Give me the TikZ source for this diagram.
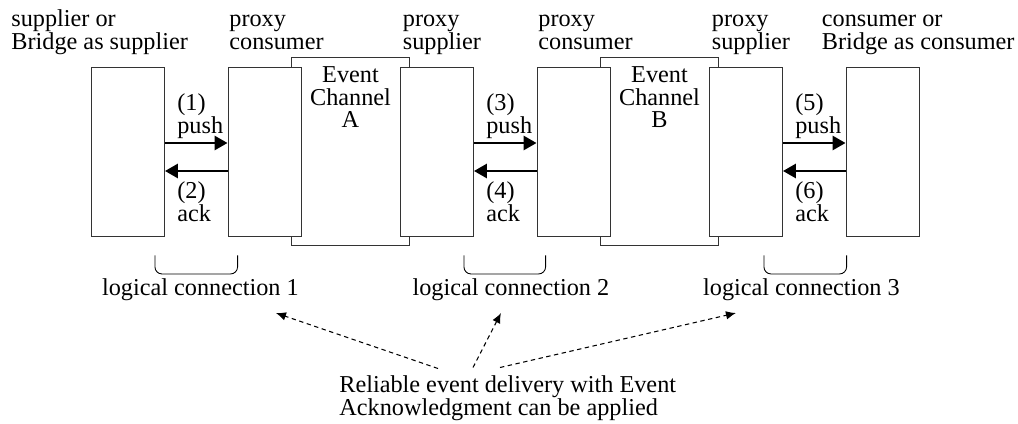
\documentclass[tikz,border=0pt]{standalone}
\usepackage{fontspec}
\setmainfont{Liberation Serif}
\usetikzlibrary{arrows.meta, backgrounds}
\tikzstyle{obj} = [rectangle, 
minimum width=1.46cm, 
minimum height=3.38cm, 
draw=black!80, fill=white, line width=0.5pt]
\tikzstyle{channel} = [rectangle, 
minimum width=2.36cm, 
minimum height=3.76cm, 
draw=black!80, line width=0.5pt]
\tikzstyle{textonly} = [inner sep=0pt, align=left, text depth=0pt]
\tikzstyle{chtext} = [inner sep=0pt, align=center, anchor=north, yshift=-0.18cm]
\tikzstyle{callarrow} = [line width=1.6pt, -{Triangle[length=0.26cm, width=0.28cm]}]
\tikzstyle{dasharrow} = [line width=0.6pt, dash pattern=on 2.5pt off 2pt, -{Latex[length=0.2cm, width=0.17cm]}]
\tikzstyle{brace} = [line width=0.5pt, rounded corners=0.14cm]

\begin{document}
\begin{tikzpicture}[node distance=2.73cm, font=\fontsize{13.8}{13}\selectfont]
		\useasboundingbox (0,0) rectangle (20.36,-8.46);
		\node (sup) [obj] at (2.56,-3.03) {};
		\node (pcA) [obj, right of=sup] {};
		\node (psA) [obj, right of=pcA, xshift=0.72cm] {};
		\node (pcB) [obj, right of=psA] {};
		\node (psB) [obj, right of=pcB, xshift=0.72cm] {};
		\node (con) [obj, right of=psB] {};
		\begin{scope}[on background layer]
		\node (chA) [channel, right of=pcA, node distance=1.72cm,
			label={[chtext]north:Event\\Channel\\A}] {};
		\node (chB) [channel, right of=pcB, node distance=1.72cm,
			label={[chtext]north:Event\\Channel\\B}] {};
		\end{scope}
		
		\node (tsup) [textonly, anchor=south west] at ([xshift=-1.6cm, yshift=0.34cm]sup.north west) {supplier or\\Bridge as supplier};
		\node (tpcA) [textonly, anchor=south west] at ([xshift=0.03cm, yshift=0.34cm]pcA.north west) {proxy\\consumer};
		\node (tpsA) [textonly, anchor=south west] at ([xshift=0.05cm, yshift=0.34cm]psA.north west) {proxy\\supplier};
		\node (tpcB) [textonly, anchor=south west] at ([xshift=0.03cm, yshift=0.34cm]pcB.north west) {proxy\\consumer};
		\node (tpsB) [textonly, anchor=south west] at ([xshift=0.05cm, yshift=0.34cm]psB.north west) {proxy\\supplier};
		\node (tcon) [textonly, anchor=south west] at ([xshift=-0.48cm, yshift=0.34cm]con.north west) {consumer or\\Bridge as consumer};
		
		\draw [callarrow]([yshift=0.17cm]sup.east) -- ([yshift=0.17cm]pcA.west)
			node [textonly, pos=0, anchor=south west, xshift=0.22cm, yshift=0.16cm] {(1)\\push};
		\draw [callarrow]([yshift=-0.39cm]pcA.west) -- ([yshift=-0.39cm]sup.east)
			node [textonly, pos=1, anchor=north west, xshift=0.22cm, yshift=-0.18cm] {(2)\\ack};
		\draw [callarrow]([yshift=0.17cm]psA.east) -- ([yshift=0.17cm]pcB.west)
			node [textonly, pos=0, anchor=south west, xshift=0.22cm, yshift=0.16cm] {(3)\\push};
		\draw [callarrow]([yshift=-0.39cm]pcB.west) -- ([yshift=-0.39cm]psA.east)
			node [textonly, pos=1, anchor=north west, xshift=0.22cm, yshift=-0.18cm] {(4)\\ack};
		\draw [callarrow]([yshift=0.17cm]psB.east) -- ([yshift=0.17cm]con.west)
			node [textonly, pos=0, anchor=south west, xshift=0.22cm, yshift=0.16cm] {(5)\\push};
		\draw [callarrow]([yshift=-0.39cm]con.west) -- ([yshift=-0.39cm]psB.east)
			node [textonly, pos=1, anchor=north west, xshift=0.22cm, yshift=-0.18cm] {(6)\\ack};
		
		\draw [brace]([xshift=-0.2cm, yshift=-0.38cm]sup.south east) -- ++(0,-0.37) -| ([xshift=0.2cm, yshift=-0.38cm]pcA.south west);
		\draw [brace]([xshift=-0.2cm, yshift=-0.38cm]psA.south east) -- ++(0,-0.37) -| ([xshift=0.18cm, yshift=-0.38cm]pcB.south west);
		\draw [brace]([xshift=-0.38cm, yshift=-0.38cm]psB.south east) -- ++(0,-0.37) -| ([xshift=0.02cm, yshift=-0.38cm]con.south west);
		
		\node (lc1) [anchor=base, inner sep=0pt] at ([xshift=0.71cm, yshift=-1.18cm]sup.south east) {logical connection 1};
		\node (lc2) [anchor=base, inner sep=0pt] at ([xshift=0.74cm, yshift=-1.18cm]psA.south east) {logical connection 2};
		\node (lc3) [anchor=base, inner sep=0pt] at ([xshift=0.37cm, yshift=-1.18cm]psB.south east) {logical connection 3};
		
		\node (rel) [textonly, anchor=north west, text depth=] at (6.78,-7.51) {Reliable event delivery with Event\\Acknowledgment can be applied};
		
		\draw [dasharrow]([xshift=1.98cm, yshift=0.14cm]rel.north west) -- ([xshift=1.51cm, yshift=-0.24cm]lc1.south);
		\draw [dasharrow]([xshift=2.68cm, yshift=0.16cm]rel.north west) -- ([xshift=-0.2cm, yshift=-0.24cm]lc2.south);
		\draw [dasharrow]([xshift=3.22cm, yshift=0.16cm]rel.north west) -- ([xshift=-1.31cm, yshift=-0.24cm]lc3.south);
	\end{tikzpicture}
\end{document}
